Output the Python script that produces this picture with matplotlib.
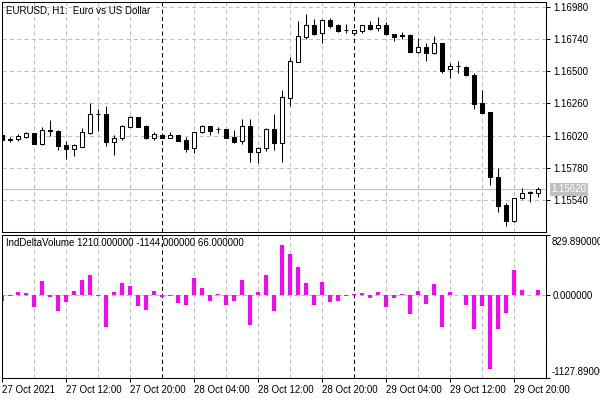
import matplotlib
matplotlib.use("Agg")
import matplotlib.pyplot as plt
import matplotlib.transforms as mtransforms

plt.rcParams['font.family'] = ['Liberation Sans', 'DejaVu Sans']

# ---------------- data ----------------
symbol_title = "EURUSD, H1:  Euro vs US Dollar"
ind_title = "IndDeltaVolume 1210.000000 -1144.000000 66.000000"

opens = [1.16025, 1.15995, 1.15995, 1.16010, 1.16040, 1.15958, 1.16062, 1.16055, 1.15950, 1.15920,
         1.15935, 1.16040, 1.16182, 1.16182, 1.15973, 1.16003, 1.16085, 1.16159, 1.16092, 1.16003,
         1.16025, 1.16006, 1.16025, 1.15988, 1.15928, 1.16047, 1.16092, 1.16070, 1.16070, 1.16010,
         1.15980, 1.16092, 1.15898, 1.15928, 1.16070, 1.15965, 1.16301, 1.16570, 1.16756, 1.16846,
         1.16786, 1.16883, 1.16846, 1.16808, 1.16786, 1.16801, 1.16846, 1.16823, 1.16846, 1.16779,
         1.16771, 1.16771, 1.16644, 1.16682, 1.16637, 1.16711, 1.16517, 1.16540, 1.16532, 1.16473,
         1.16264, 1.16197, 1.15712, 1.15503, 1.15383, 1.15555, 1.15600, 1.15592]
highs = [1.16032, 1.16010, 1.16032, 1.16047, 1.16040, 1.16085, 1.16137, 1.16062, 1.15980, 1.15958,
         1.16077, 1.16264, 1.16219, 1.16241, 1.16025, 1.16100, 1.16167, 1.16159, 1.16096, 1.16047,
         1.16025, 1.16047, 1.16025, 1.16010, 1.16047, 1.16100, 1.16092, 1.16085, 1.16070, 1.16062,
         1.16144, 1.16144, 1.15935, 1.16077, 1.16182, 1.16361, 1.16607, 1.16876, 1.16928, 1.16890,
         1.16890, 1.16898, 1.16853, 1.16853, 1.16808, 1.16846, 1.16876, 1.16905, 1.16868, 1.16779,
         1.16793, 1.16779, 1.16749, 1.16711, 1.16764, 1.16711, 1.16562, 1.16577, 1.16540, 1.16488,
         1.16361, 1.16197, 1.15779, 1.15518, 1.15555, 1.15630, 1.15607, 1.15637]
lows = [1.15980, 1.15973, 1.15980, 1.16003, 1.15958, 1.15950, 1.16018, 1.15913, 1.15846, 1.15868,
        1.15935, 1.16032, 1.16055, 1.15943, 1.15876, 1.15988, 1.16085, 1.16085, 1.15995, 1.15988,
        1.16003, 1.16006, 1.15980, 1.15898, 1.15891, 1.16040, 1.16025, 1.16040, 1.16003, 1.15965,
        1.15958, 1.15824, 1.15816, 1.15906, 1.15913, 1.15824, 1.16241, 1.16570, 1.16741, 1.16771,
        1.16711, 1.16823, 1.16793, 1.16786, 1.16771, 1.16786, 1.16808, 1.16801, 1.16771, 1.16726,
        1.16741, 1.16644, 1.16637, 1.16577, 1.16629, 1.16488, 1.16450, 1.16488, 1.16465, 1.16219,
        1.16189, 1.15652, 1.15450, 1.15346, 1.15376, 1.15547, 1.15525, 1.15562]
closes = [1.15988, 1.15984, 1.16018, 1.16040, 1.15958, 1.16062, 1.16051, 1.15943, 1.15920, 1.15950,
          1.16047, 1.16182, 1.16178, 1.15973, 1.16003, 1.16092, 1.16159, 1.16085, 1.16003, 1.16032,
          1.16006, 1.16025, 1.15980, 1.15920, 1.16047, 1.16092, 1.16055, 1.16066, 1.16003, 1.15973,
          1.16092, 1.15898, 1.15928, 1.16070, 1.15965, 1.16309, 1.16577, 1.16764, 1.16846, 1.16779,
          1.16883, 1.16838, 1.16801, 1.16805, 1.16808, 1.16846, 1.16816, 1.16846, 1.16779, 1.16756,
          1.16767, 1.16644, 1.16682, 1.16637, 1.16711, 1.16503, 1.16540, 1.16536, 1.16473, 1.16256,
          1.16189, 1.15712, 1.15495, 1.15383, 1.15555, 1.15592, 1.15589, 1.15620]

delta = [-80, -15, 47, 28, -156, 199, -28, -213, -85, 57,
         213, 284, -10, -426, 43, 170, 128, -142, -199, 57,
         -28, -8, -99, -128, 241, 99, -71, 14, -128, -71,
         213, -398, 43, 284, -213, 681, 568, 383, 170, -128,
         184, -85, -71, -7, 14, 28, -43, 43, -156, -43,
         14, -256, 57, -114, 156, -426, 43, 5, -128, -454,
         -142, -1008, -454, -241, 341, 71, 8, 66]

time_labels = ["27 Oct 2021", "27 Oct 12:00", "27 Oct 20:00", "28 Oct 04:00", "28 Oct 12:00",
               "28 Oct 20:00", "29 Oct 04:00", "29 Oct 12:00", "29 Oct 20:00"]
time_label_bars = [0, 8, 16, 24, 32, 40, 48, 56, 64]
day_separator_bars = [20, 44, 68]

price_ticks = [1.15540, 1.15780, 1.16020, 1.16260, 1.16500, 1.16740, 1.16980]
last_price = 1.15620
ind_max = 829.89
ind_min = -1127.89

# ---------------- layout ----------------
W, H = 600, 400
fig = plt.figure(figsize=(6, 4), dpi=100)
fig.patch.set_facecolor('white')


def px_axes(l, t, r, b):
    return fig.add_axes([l / W, 1 - b / H, (r - l) / W, (b - t) / H])


ax = px_axes(2, 2, 546, 232)
ax2 = px_axes(2, 234.5, 546, 378)

n = len(opens)
xs = list(range(n))
LW = 0.75
grid_kw = dict(color='#c0c0c0', linewidth=LW, linestyle=(0, (4, 3)), zorder=0)
sep_kw = dict(color='black', linewidth=LW, linestyle=(0, (4, 3)), zorder=0.5)

for a in (ax, ax2):
    a.set_xlim(0, 68)
    for b in range(4, 68, 4):
        if b not in day_separator_bars:
            a.axvline(b, **grid_kw)
    for b in day_separator_bars:
        a.axvline(b, **sep_kw)
    for s in a.spines.values():
        s.set_linewidth(LW)
        s.set_color('black')

# ---------------- main price chart ----------------
ax.set_ylim(1.15301, 1.17017)
for p in price_ticks:
    ax.axhline(p, **grid_kw)
ax.axhline(last_price, color='#c0c0c0', linewidth=LW, zorder=0.6)

body_w = 0.55
ax.vlines(xs, lows, highs, color='black', linewidth=LW, zorder=2)
for i in xs:
    o, c = opens[i], closes[i]
    bull = c >= o
    lo = min(o, c)
    h = abs(c - o)
    ax.bar(i, h, width=body_w, bottom=lo, color='white' if bull else 'black',
           edgecolor='black', linewidth=LW, zorder=3)

ax.yaxis.tick_right()
ax.set_yticks(price_ticks)
ax.set_yticklabels([f"{p:.5f}" for p in price_ticks])
ax.tick_params(axis='y', length=3, width=LW, labelsize=7, pad=2, direction='out')
ax.set_xticks([])

trans = mtransforms.blended_transform_factory(ax.transAxes, ax.transData)
ax.text(1.0105, last_price, f"{last_price:.5f}", transform=trans, fontsize=7,
        color='white', va='center', ha='left',
        bbox=dict(facecolor='#c0c0c0', edgecolor='none', pad=1.2))

ax.text(0.008, 0.985, symbol_title, transform=ax.transAxes, fontsize=7,
        va='top', ha='left', color='black')

# ---------------- indicator ----------------
ax2.set_ylim(ind_min, ind_max)
ax2.axhline(0, **grid_kw)
ax2.bar(xs, delta, width=0.5, color='#ff00ff', linewidth=0, zorder=2)

ax2.yaxis.tick_right()
ax2.set_yticks([ind_min, 0, ind_max])
ax2.set_yticklabels(['', f"{0:.6f}", ''])
ax2.tick_params(axis='y', length=3, width=LW, labelsize=7, pad=2, direction='out')
ax2.text(1.0105, 0.985, f"{ind_max:.6f}", transform=ax2.transAxes, fontsize=7,
         va='top', ha='left', clip_on=False)
ax2.text(1.0105, 0.01, f"{ind_min:.6f}", transform=ax2.transAxes, fontsize=7,
         va='bottom', ha='left', clip_on=False)

ax2.set_xticks(time_label_bars)
ax2.set_xticklabels(time_labels)
for lab in ax2.get_xticklabels():
    lab.set_ha('left')
ax2.tick_params(axis='x', length=3, width=LW, labelsize=7, pad=2, direction='out')

ax2.text(0.008, 0.975, ind_title, transform=ax2.transAxes, fontsize=7,
         va='top', ha='left', color='black')

fig.savefig("out.png", dpi=100, facecolor='white')
